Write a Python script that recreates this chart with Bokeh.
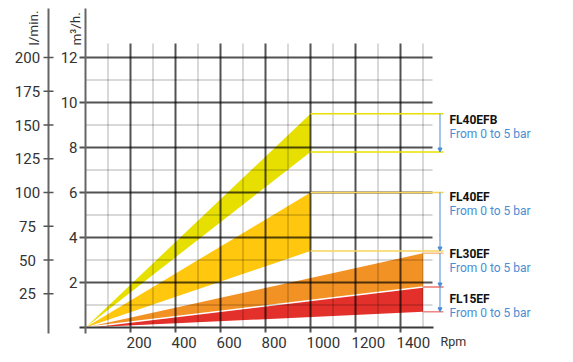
from bokeh.plotting import figure
from bokeh.models import Range1d, Arrow, NormalHead
from bokeh.embed import file_html
from bokeh.resources import INLINE
from bokeh.core.properties import value

# ---------------- data ----------------
RPM_TICKS = [200, 400, 600, 800, 1000, 1200, 1400]
RPM_GRID = list(range(100, 1600, 100))
M3H_TICKS = [2, 4, 6, 8, 10, 12]
M3H_GRID = list(range(1, 13))
LMIN_TICKS = [25, 50, 75, 100, 125, 150, 175, 200]
LMIN_TO_M3H = 0.06

MODELS = ["FL40EFB", "FL40EF", "FL30EF", "FL15EF"]
MAX_RPM = [1000, 1000, 1500, 1500]
FLOW_0BAR = [9.5, 6.0, 3.3, 1.8]   # m3/h at max rpm, 0 bar
FLOW_5BAR = [7.8, 3.4, 1.8, 0.7]   # m3/h at max rpm, 5 bar
SUBTITLE = "From 0 to 5 bar"

# ---------------- styles / layout ----------------
BAND_COLORS = ["#E6DF00", "#FFC70D", "#F39224", "#E4302A"]
BRACKET_COLORS = ["#E8E000", "#F7D45A", "#F8BE86", "#F08A8A"]
BLUE = "#4A8DD3"
TXT = "#333333"
FONT = "Roboto"

W, H = 573, 362
X0PX, Y0PX = 85, 327
PX_PER_RPM = 45 / 200
PX_PER_M3H = 22.5


def X(px):
    return (px - X0PX) / PX_PER_RPM


def Y(px):
    return (Y0PX - px) / PX_PER_M3H


p = figure(width=W, height=H, output_backend="svg", toolbar_location=None,
           x_axis_type=None, y_axis_type=None,
           x_range=Range1d(X(0), X(W)), y_range=Range1d(Y(H), Y(0)),
           min_border=0, min_border_left=0, min_border_right=0,
           min_border_top=0, min_border_bottom=0)
p.outline_line_color = None
p.grid.visible = False
p.background_fill_color = "white"
p.border_fill_color = "white"

# ---------------- bands ----------------
xs = [[0, r, r] for r in MAX_RPM]
ys = [[0, hi, lo] for hi, lo in zip(FLOW_0BAR, FLOW_5BAR)]
p.patches(xs, ys, fill_color=BAND_COLORS, line_color=None)
# white separator between FL30EF and FL15EF
p.line([0, MAX_RPM[3]], [0, FLOW_0BAR[3]], line_color="white", line_width=1.5)

# ---------------- grid ----------------
top = Y(43)
for r in RPM_GRID:
    dark = r % 200 == 0
    p.segment(x0=[r], y0=[Y(332) if dark else 0], x1=[r], y1=[top],
              line_color="black", line_alpha=0.68 if dark else 0.3,
              line_width=2 if dark else 1)
for v in M3H_GRID:
    dark = v % 2 == 0
    p.segment(x0=[X(79) if dark else 0], y0=[v], x1=[X(432)], y1=[v],
              line_color="black", line_alpha=0.68 if dark else 0.3,
              line_width=2 if dark else 1)

# axes lines
p.segment(x0=[X(79)], y0=[0], x1=[X(433)], y1=[0], line_color="#3a3a3a", line_width=2)
p.segment(x0=[0], y0=[Y(8)], x1=[0], y1=[Y(333)], line_color="#666666", line_width=2)
lx = X(48)
p.segment(x0=[lx], y0=[Y(8)], x1=[lx], y1=[Y(333)], line_color="#666666", line_width=2)
lm_y = [t * LMIN_TO_M3H for t in LMIN_TICKS]
p.segment(x0=[X(43)] * len(lm_y), y0=lm_y, x1=[X(53)] * len(lm_y), y1=lm_y,
          line_color="#555555", line_width=1.5)

# tick labels
p.text(x=[X(27)] * len(LMIN_TICKS), y=lm_y, text=[str(t) for t in LMIN_TICKS],
       text_font=value(FONT), text_font_size="15px", text_color=TXT,
       text_align="center", text_baseline="middle")
p.text(x=[X(77)] * len(M3H_TICKS), y=M3H_TICKS, text=[str(t) for t in M3H_TICKS],
       text_font=value(FONT), text_font_size="15px", text_color=TXT,
       text_align="right", text_baseline="middle")
p.text(x=RPM_TICKS, y=[Y(342)] * len(RPM_TICKS), text=[str(t) for t in RPM_TICKS],
       x_offset=-4, text_font=value(FONT), text_font_size="15px", text_color=TXT,
       text_align="left", text_baseline="middle")
p.text(x=[X(440)], y=[Y(341)], text=["Rpm"], text_font=value(FONT),
       text_font_size="12.5px", text_color=TXT, text_align="left", text_baseline="middle")
p.text(x=[X(33)], y=[Y(45)], text=["l/min."], angle=1.5708, text_font=value(FONT),
       text_font_size="13.5px", text_color=TXT, text_align="left", text_baseline="middle")
p.text(x=[X(75)], y=[Y(45)], text=["m³/h."], angle=1.5708, text_font=value(FONT),
       text_font_size="13.5px", text_color=TXT, text_align="left", text_baseline="middle")

# ---------------- brackets & labels ----------------
xe = X(443)
xa = X(439.5)
NAME_Y = [Y(119), Y(196), Y(253), Y(298)]
for i, m in enumerate(MODELS):
    r = MAX_RPM[i]
    for v in (FLOW_0BAR[i], FLOW_5BAR[i]):
        p.segment(x0=[r], y0=[v], x1=[xe], y1=[v], line_color=BRACKET_COLORS[i],
                  line_width=1.6)
    p.add_layout(Arrow(x_start=xa, y_start=FLOW_0BAR[i], x_end=xa, y_end=FLOW_5BAR[i],
                       line_color=BLUE, line_width=1,
                       end=NormalHead(size=4, fill_color=BLUE, line_color=BLUE)))

p.text(x=[X(449)] * 4, y=NAME_Y, text=MODELS, text_font=value(FONT),
       text_font_style="bold", text_font_size="12px", text_color="#111111",
       text_align="left", text_baseline="middle")
p.text(x=[X(449)] * 4, y=[v - 14 / PX_PER_M3H for v in NAME_Y], text=[SUBTITLE] * 4,
       text_font=value(FONT), text_font_size="12px", text_color=BLUE,
       text_align="left", text_baseline="middle")

open("out.html", "w").write(file_html(p, INLINE))
